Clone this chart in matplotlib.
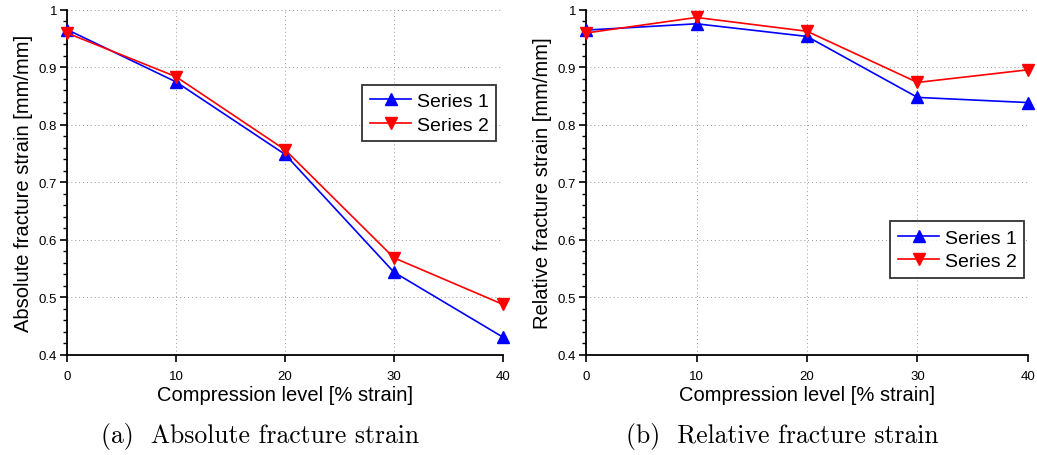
import matplotlib
matplotlib.use('Agg')
import matplotlib.pyplot as plt
from matplotlib.ticker import MultipleLocator

plt.rcParams['font.family'] = ['Liberation Sans', 'DejaVu Sans']

# --- data ---
compression = [0, 10, 20, 30, 40]
abs_series1 = [0.966, 0.875, 0.749, 0.544, 0.431]
abs_series2 = [0.960, 0.884, 0.757, 0.569, 0.488]
rel_series1 = [0.965, 0.976, 0.954, 0.848, 0.839]
rel_series2 = [0.960, 0.987, 0.963, 0.874, 0.896]

panels = [
    (abs_series1, abs_series2, 'Absolute fracture strain [mm/mm]',
     '(a)  Absolute fracture strain', (0.985, 0.783), 0.2507),
    (rel_series1, rel_series2, 'Relative fracture strain [mm/mm]',
     '(b)  Relative fracture strain', (0.992, 0.388), 0.754),
]

fig = plt.figure(figsize=(10.37, 4.56), dpi=100)
axes_pos = [[0.0646, 0.2193, 0.4204, 0.7566],
            [0.5651, 0.2193, 0.4262, 0.7566]]

for pos, (s1, s2, ylab, caption, anchor, cap_x) in zip(axes_pos, panels):
    ax = fig.add_axes(pos)
    ax.plot(compression, s1, color='#0000ff', marker='^', markersize=8,
            linewidth=1.2, label='Series 1', clip_on=False, zorder=3)
    ax.plot(compression, s2, color='#ff0000', marker='v', markersize=8,
            linewidth=1.2, label='Series 2', clip_on=False, zorder=3)
    ax.set_xlim(0, 40)
    ax.set_ylim(0.4, 1.0)
    ax.xaxis.set_major_locator(MultipleLocator(10))
    ax.yaxis.set_minor_locator(MultipleLocator(0.02))
    ax.set_yticks([0.4, 0.5, 0.6, 0.7, 0.8, 0.9, 1.0])
    ax.set_yticklabels(['0.4', '0.5', '0.6', '0.7', '0.8', '0.9', '1'])
    ax.spines['top'].set_visible(False)
    ax.spines['right'].set_visible(False)
    ax.spines['left'].set_linewidth(1.3)
    ax.spines['bottom'].set_linewidth(1.3)
    ax.tick_params(axis='both', which='major', direction='out', length=5,
                   width=1.2, labelsize=9.5)
    ax.tick_params(axis='x', which='major', pad=6)
    ax.tick_params(axis='y', which='major', pad=2)
    ax.tick_params(axis='y', which='minor', direction='out', length=3, width=1.0)
    ax.grid(True, which='major', linestyle=(0, (1, 3)), color='#999999', linewidth=0.7)
    ax.set_xlabel('Compression level [% strain]', fontsize=14.5, labelpad=2)
    ax.set_ylabel(ylab, fontsize=14.5, labelpad=4)
    leg = ax.legend(loc='upper right', bbox_to_anchor=anchor, fontsize=14, frameon=True,
                    fancybox=False, edgecolor='black', handlelength=2.1,
                    borderpad=0.4, labelspacing=0.3, handletextpad=0.3,
                    borderaxespad=0.0)
    leg.get_frame().set_linewidth(1.3)
    fig.text(cap_x, 0.042, caption, ha='center', va='center',
             fontsize=18.5, family='cmr10')

fig.savefig('out.png', dpi=100)
